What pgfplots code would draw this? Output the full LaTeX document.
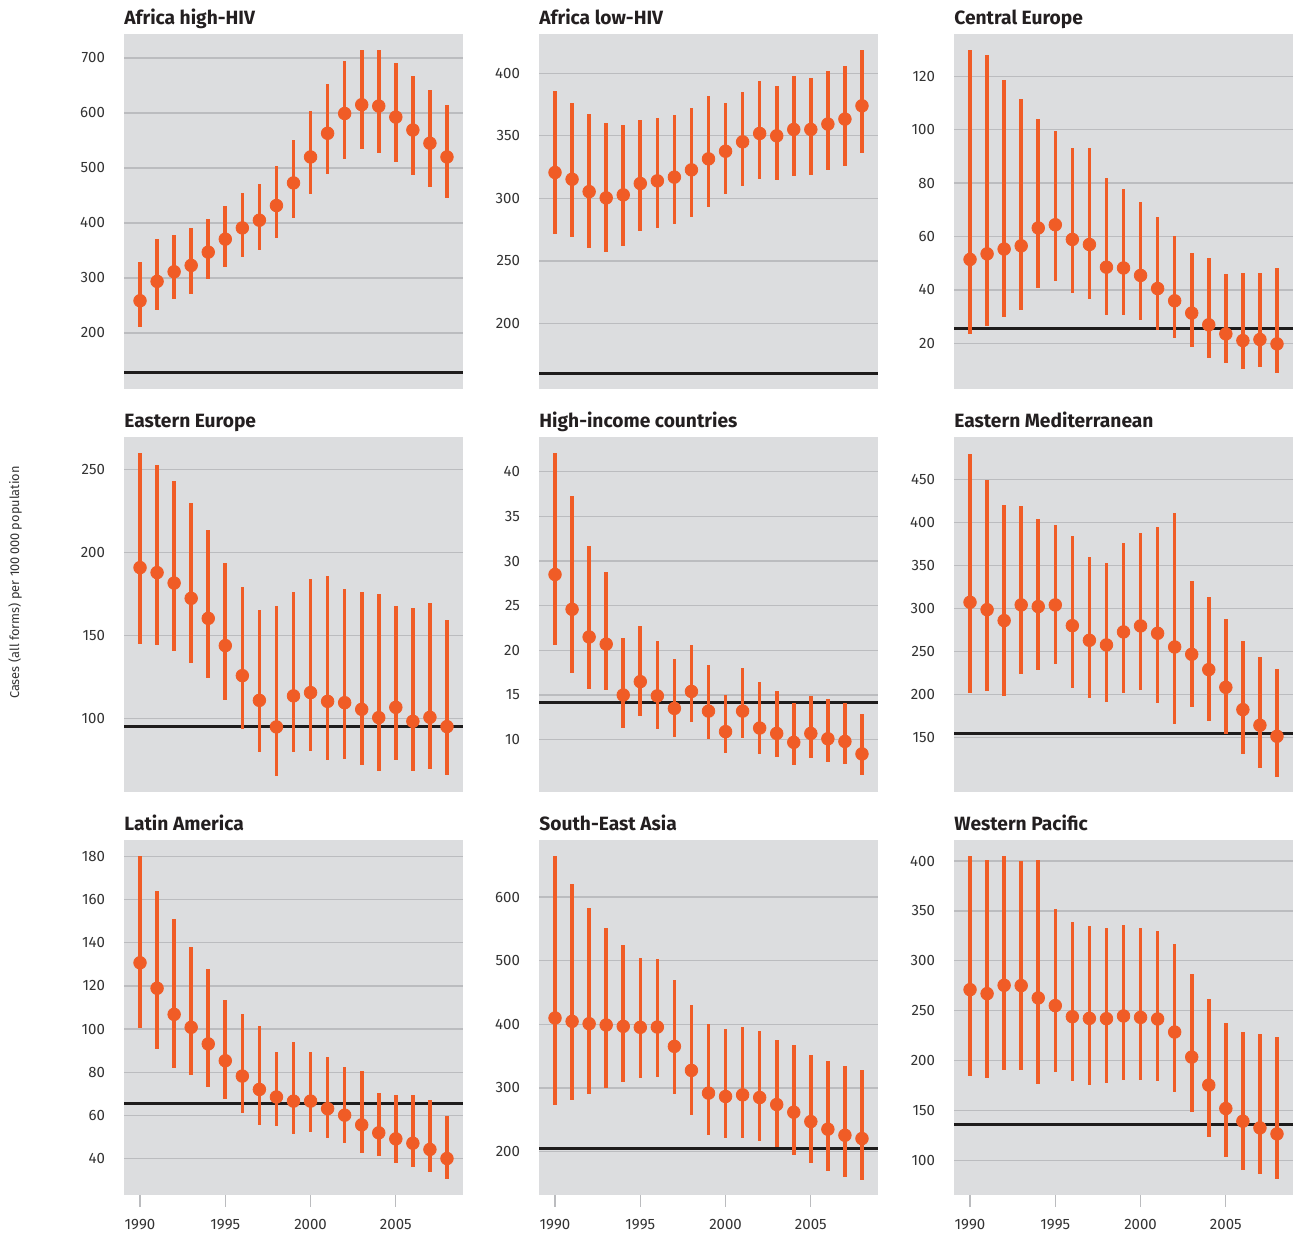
\documentclass[border=0pt]{standalone}
\usepackage{fontspec}
\setmainfont{Fira Sans}
\usepackage{pgfplots}
\usepackage{pgfplotstable}
\pgfplotsset{compat=1.18}
\definecolor{panelbg}{RGB}{220,221,223}
\definecolor{gridc}{RGB}{187,188,191}
\definecolor{tbor}{RGB}{240,92,38}
\definecolor{tickc}{RGB}{51,51,51}
\definecolor{titlec}{RGB}{35,31,32}
\definecolor{targetc}{RGB}{30,28,28}

\pgfplotstableread{
x y lo hi
1990 258.6 210.3 328.8
1991 293.8 241.7 371
1992 311.3 261 379
1993 322.8 271 390
1994 347 298 407
1995 370.6 320 430.5
1996 391 338.5 455.3
1997 405 350 470
1998 431.7 373 504
1999 472.8 409 550
2000 520 452 604
2001 563 489 652
2002 599 516 695
2003 615 534 715
2004 612.5 528 715
2005 592.5 510 691
2006 569 486.7 667.7
2007 545 466 642
2008 520 444.5 615
}\tA
\pgfplotstableread{
x y lo hi
1990 320.7 271.5 385.8
1991 315.3 269.1 376.2
1992 305.4 260 367.4
1993 300.4 256.9 360.2
1994 302.8 261.7 358.3
1995 311.9 274 362.6
1996 314 276.3 364.4
1997 317 279.3 366.3
1998 322.8 285.2 371.9
1999 331.6 293.4 381.8
2000 337.7 303.8 376.5
2001 345.2 310.3 384.7
2002 351.9 315.9 393.5
2003 350 314.5 390
2004 355.1 318 398
2005 355.1 319 396.2
2006 359.4 322.3 401.5
2007 363.4 326 405.5
2008 374 336.1 418.6
}\tB
\pgfplotstableread{
x y lo hi
1990 51.4 23.5 129.9
1991 53.5 26.6 128
1992 55.3 29.8 118.6
1993 56.5 32.3 111.7
1994 63.2 40.7 103.9
1995 64.4 43.2 99.6
1996 58.9 38.8 93.1
1997 57 36.6 93
1998 48.5 30.4 82.1
1999 48.2 30.6 77.9
2000 45.4 28.8 73.1
2001 40.5 25 67.3
2002 35.9 22 60.3
2003 31.3 18.7 53.8
2004 26.9 14.4 51.9
2005 23.5 12.5 46
2006 21 10.4 46.4
2007 21.4 11.2 46.3
2008 19.75 9 48.3
}\tC
\pgfplotstableread{
x y lo hi
1990 191 145 260
1991 188 144.6 252.6
1992 181.7 140.6 243
1993 172.5 133.3 229.7
1994 160.4 124.5 213.9
1995 144 111.2 194
1996 125.9 93.8 179.1
1997 111 80.1 165.7
1998 95 65.7 168
1999 113.7 79.9 176.5
2000 115.7 80.5 184.3
2001 110.4 75.3 185.7
2002 109.6 75.9 178.3
2003 105.6 72.3 176.5
2004 100.6 68.5 174.9
2005 106.8 74.9 168
2006 98.4 68.3 166.5
2007 100.8 69.5 169.9
2008 95.2 66.3 159.4
}\tD
\pgfplotstableread{
x y lo hi
1990 28.5 20.6 42.1
1991 24.6 17.5 37.3
1992 21.5 15.7 31.7
1993 20.7 15.6 28.8
1994 15 11.3 21.4
1995 16.5 12.7 22.7
1996 14.9 11.2 21
1997 13.5 10.3 19
1998 15.4 12 20.6
1999 13.2 10.1 18.4
2000 10.9 8.5 15
2001 13.2 10.2 18
2002 11.3 8.4 16.5
2003 10.7 8.1 15.4
2004 9.7 7.2 14.1
2005 10.7 8 14.9
2006 10.1 7.5 14.6
2007 9.8 7.3 14.1
2008 8.4 6 12.9
}\tE
\pgfplotstableread{
x y lo hi
1990 307 201.2 479.8
1991 298.4 203.5 448.8
1992 285.7 198 419.8
1993 303.9 223.6 418.6
1994 302 228.7 404.3
1995 303.9 235.3 396.5
1996 279.8 207.8 384.1
1997 262.8 196.1 359.3
1998 257.4 191.5 353.1
1999 272.5 201.2 376.4
2000 279.5 204.7 388
2001 270.9 190.3 394.6
2002 255 165.1 411.2
2003 246.5 185.3 332.2
2004 228.7 169.4 313.2
2005 208.1 154.3 288
2006 182.2 130.2 262.4
2007 164 114.3 243
2008 151.2 103.5 229.8
}\tF
\pgfplotstableread{
x y lo hi
1990 130.7 100.3 180.3
1991 118.9 90.7 163.9
1992 106.8 81.8 150.9
1993 100.8 78.8 138.1
1994 93.1 73 127.6
1995 85.3 67.8 113.3
1996 78.2 61.3 106.8
1997 72 55.6 101.6
1998 68.5 54.9 89.2
1999 66.6 51.3 93.8
2000 66.6 52.2 89.4
2001 63.1 49.4 87.2
2002 60.1 47.1 82.2
2003 55.6 42.6 80.4
2004 51.9 41.1 70.3
2005 49.1 38 69.4
2006 47.1 36.3 69.4
2007 44.2 33.7 66.9
2008 40 30.7 59.5
}\tG
\pgfplotstableread{
x y lo hi
1990 410 273 665.1
1991 404.7 280.8 620
1992 401 289.8 582.2
1993 399 299.2 550.7
1994 396.9 308.7 525.5
1995 395.3 315.5 503.9
1996 395.8 317 503.4
1997 365.4 291.3 469.3
1998 327.6 258.3 431
1999 291.9 225.7 400
2000 286.6 221 392.1
2001 289.2 221 395.3
2002 285 217.3 390
2003 274 206.8 375.9
2004 261.9 194.8 368
2005 247.2 181.6 351.7
2006 235.2 169 342.8
2007 225.7 159.6 334.9
2008 220.5 155.4 328.6
}\tH
\pgfplotstableread{
x y lo hi
1990 271.1 184.1 405.1
1991 267.1 182.7 401.1
1992 275.5 190.8 404.8
1993 275.2 190.1 399.7
1994 262.8 177 401.4
1995 255.1 188.4 351.8
1996 244 179.4 338.8
1997 242.3 176 335.4
1998 242 177.4 332.8
1999 244.7 180.4 336.4
2000 243.3 181 333.1
2001 241.7 180 330.4
2002 228.6 168.3 316.7
2003 203.5 148.2 286.5
2004 175.4 123.4 261.4
2005 151.9 103.7 238
2006 139.2 90.6 228.9
2007 132.5 86.3 226.9
2008 126.5 81.2 223.2
}\tI

\pgfplotsset{
  every axis title/.style={at={(0,1)}, anchor=base west, inner sep=0pt,
      yshift=4.6pt, font=\bfseries\fontsize{9.6}{11}\selectfont, text=titlec},
  panel/.style={
    scale only axis, width=169.5pt, height=177.5pt,
    anchor=south west,
    xmin=1989.06, xmax=2008.94,
    axis background/.style={fill=panelbg},
    axis line style={draw=none},
    ymajorgrids, grid style={gridc, line width=0.65pt},
    tick align=outside, major tick length=6pt,
    ytick style={draw=none},
    xtick=\empty,
    /pgf/number format/assume math mode=true,
    /pgf/number format/1000 sep={},
    yticklabel style={font=\fontsize{7.5}{9}\selectfont, text=tickc},
  },
  bottomrow/.style={
    xtick={1990,1995,2000,2005},
    xticklabels={1990,1995,2000,2005},
    xtick pos=lower,
    xtick style={draw=gridc, line width=0.65pt},
    xticklabel style={font=\fontsize{7.5}{9}\selectfont, text=tickc, yshift=-2.5pt},
  },
  errs/.style={
    tbor, only marks, mark=*, mark size=3.15pt,
    mark options={draw=none, fill=tbor},
    error bars/.cd, y dir=both, y explicit, error mark=none,
    error bar style={line width=1.8pt, color=tbor},
  },
}
\newcommand{\panelplot}[1]{%
  \addplot+[errs] table[x=x, y=y,
    y error plus expr=\thisrow{hi}-\thisrow{y},
    y error minus expr=\thisrow{y}-\thisrow{lo}] {#1};}
\newcommand{\target}[1]{%
  \addplot[targetc, line width=1.5pt, forget plot] coordinates {(1989.06,#1) (2008.94,#1)};}

\begin{document}
\begin{tikzpicture}
\useasboundingbox (0,0) rectangle (647.5pt,617pt);

% Row 1
\begin{axis}[panel, at={(62pt,422.5pt)}, title={Africa high-HIV},
  ymin=98.2, ymax=743.6, ytick={200,300,...,700}]
  \target{129}
  \panelplot{\tA}
\end{axis}
\begin{axis}[panel, at={(269.5pt,422.5pt)}, title={Africa low-HIV},
  ymin=147.7, ymax=431.4, ytick={200,250,...,400}]
  \target{160}
  \panelplot{\tB}
\end{axis}
\begin{axis}[panel, at={(477pt,422.5pt)}, title={Central Europe},
  ymin=2.85, ymax=135.9, ytick={20,40,...,120}]
  \target{25.6}
  \panelplot{\tC}
\end{axis}

% Row 2
\begin{axis}[panel, at={(62pt,221pt)}, title={Eastern Europe},
  ymin=55.8, ymax=269.7, ytick={100,150,...,250}]
  \target{95.4}
  \panelplot{\tD}
\end{axis}
\begin{axis}[panel, at={(269.5pt,221pt)}, title={High-income countries},
  ymin=4.14, ymax=43.9, ytick={10,15,...,40}]
  \target{14.2}
  \panelplot{\tE}
\end{axis}
\begin{axis}[panel, at={(477pt,221pt)}, title={Eastern Mediterranean},
  ymin=86.4, ymax=499.2, ytick={150,200,...,450}]
  \target{153.9}
  \panelplot{\tF}
\end{axis}

% Row 3
\begin{axis}[panel, bottomrow, at={(62pt,19.5pt)}, title={Latin America},
  ymin=23.1, ymax=187.6, ytick={40,60,...,180}]
  \target{65.7}
  \panelplot{\tG}
\end{axis}
\begin{axis}[panel, bottomrow, at={(269.5pt,19.5pt)}, title={South-East Asia},
  ymin=131.8, ymax=689.8, ytick={200,300,...,600}]
  \target{204.7}
  \panelplot{\tH}
\end{axis}
\begin{axis}[panel, bottomrow, at={(477pt,19.5pt)}, title={Western Pacific},
  ymin=65.2, ymax=421.2, ytick={100,150,...,400}]
  \target{135.5}
  \panelplot{\tI}
\end{axis}

\node[rotate=90, font=\fontsize{6.4}{8}\selectfont, text=tickc, inner sep=0pt]
  at (7.5pt,325.75pt) {Cases (all forms) per 100\,000 population};
\end{tikzpicture}
\end{document}
